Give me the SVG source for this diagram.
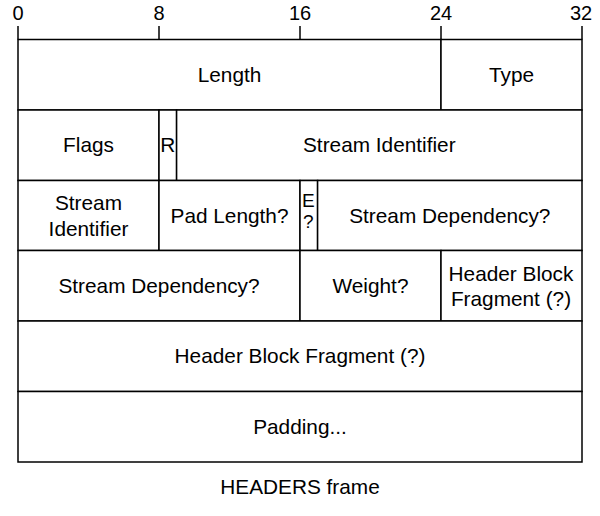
<svg xmlns="http://www.w3.org/2000/svg" width="600" height="516" viewBox="0 0 600 516">
<style>
.c{fill:#ffffff;stroke:#000000;stroke-width:1.5}
.t{font-family:"Liberation Sans",Arial,sans-serif;font-size:20.8px;fill:#000000;text-anchor:middle}
.s{font-family:"Liberation Sans",Arial,sans-serif;font-size:19px;fill:#000000;text-anchor:middle}
.k{font-family:"Liberation Sans",Arial,sans-serif;font-size:20px;fill:#000000;text-anchor:middle}
.tick{stroke:#000000;stroke-width:1.5}
</style>
<rect width="600" height="516" fill="#ffffff"/>
<g id="ruler">
<line class="tick" x1="18" y1="26" x2="18" y2="39.5"/>
<line class="tick" x1="159" y1="26" x2="159" y2="39.5"/>
<line class="tick" x1="300" y1="26" x2="300" y2="39.5"/>
<line class="tick" x1="441" y1="26" x2="441" y2="39.5"/>
<line class="tick" x1="582" y1="26" x2="582" y2="39.5"/>
<text class="k" x="18" y="19.5">0</text>
<text class="k" x="159" y="19.5">8</text>
<text class="k" x="300" y="19.5">16</text>
<text class="k" x="441" y="19.5">24</text>
<text class="k" x="581" y="19.5">32</text>
</g>
<g id="length"><rect class="c" x="18" y="39.5" width="423" height="70.5"/><text class="t" x="229.5" y="81.75">Length</text></g>
<g id="type"><rect class="c" x="441" y="39.5" width="141" height="70.5"/><text class="t" x="511.5" y="81.75">Type</text></g>
<g id="flags"><rect class="c" x="18" y="110" width="141" height="70.5"/><text class="t" x="88.5" y="152.25">Flags</text></g>
<g id="r"><rect class="c" x="159" y="110" width="17.6" height="70.5"/><text class="t" x="167.8" y="152.25">R</text></g>
<g id="stream-id"><rect class="c" x="176.6" y="110" width="405.4" height="70.5"/><text class="t" x="379.3" y="152.25">Stream Identifier</text></g>
<g id="stream-id-2"><rect class="c" x="18" y="180.5" width="141" height="70"/><text class="t" x="88.5" y="209.5">Stream</text><text class="t" x="88.5" y="235.5">Identifier</text></g>
<g id="pad-length"><rect class="c" x="159" y="180.5" width="141" height="70"/><text class="t" x="229.5" y="222.5">Pad Length?</text></g>
<g id="e"><rect class="c" x="300" y="180.5" width="17.6" height="70"/><text class="s" x="308.3" y="206.5">E</text><text class="s" x="308.3" y="228.3">?</text></g>
<g id="stream-dep"><rect class="c" x="317.6" y="180.5" width="264.4" height="70"/><text class="t" x="449.8" y="222.5">Stream Dependency?</text></g>
<g id="stream-dep-2"><rect class="c" x="18" y="250.5" width="282" height="70.5"/><text class="t" x="159" y="292.75">Stream Dependency?</text></g>
<g id="weight"><rect class="c" x="300" y="250.5" width="141" height="70.5"/><text class="t" x="370.5" y="292.75">Weight?</text></g>
<g id="hbf-1"><rect class="c" x="441" y="250.5" width="141" height="70.5"/><text class="t" x="511" y="280.5">Header Block</text><text class="t" x="511" y="305.7">Fragment (?)</text></g>
<g id="hbf-2"><rect class="c" x="18" y="321" width="564" height="70.5"/><text class="t" x="300" y="363.25">Header Block Fragment (?)</text></g>
<g id="padding"><rect class="c" x="18" y="391.5" width="564" height="70.5"/><text class="t" x="300" y="433.75">Padding...</text></g>
<g id="caption"><text class="t" x="300" y="494.3">HEADERS frame</text></g>
<g id="connectors"></g>
</svg>
